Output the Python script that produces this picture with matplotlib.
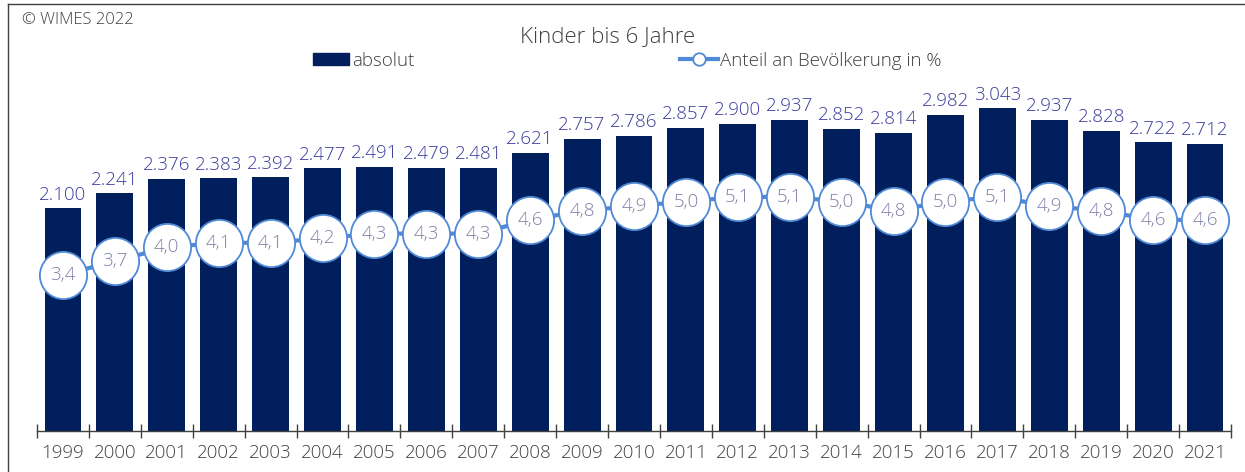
import matplotlib
matplotlib.use("Agg")
import matplotlib.pyplot as plt
from matplotlib.lines import Line2D
from matplotlib.patches import Patch

plt.rcParams['font.family'] = ['Open Sans', 'DejaVu Sans']
plt.rcParams['font.weight'] = 'light'

years = ['1999', '2000', '2001', '2002', '2003', '2004', '2005', '2006', '2007', '2008',
         '2009', '2010', '2011', '2012', '2013', '2014', '2015', '2016', '2017', '2018',
         '2019', '2020', '2021']
absolut = [2100, 2241, 2376, 2383, 2392, 2477, 2491, 2479, 2481, 2621,
           2757, 2786, 2857, 2900, 2937, 2852, 2814, 2982, 3043, 2937,
           2828, 2722, 2712]
anteil = [3.4, 3.7, 4.0, 4.1, 4.1, 4.2, 4.3, 4.3, 4.3, 4.6,
          4.8, 4.9, 5.0, 5.1, 5.1, 5.0, 4.8, 5.0, 5.1, 4.9,
          4.8, 4.6, 4.6]

def de_int(v):
    return f"{v:,}".replace(",", ".")

def de_dec(v):
    return f"{v:.1f}".replace(".", ",")

W, H = 1245, 472
fig = plt.figure(figsize=(W / 100, H / 100), dpi=100)

bar_color = '#001f5c'
line_color = '#5089d6'
label_color = '#3b3b9e'
circ_text = '#8080a8'
text_gray = '#404040'
FS = 13.5

ax_left = 37 / W
ax_right = 1231 / W
ax_bottom = (H - 431) / H
ax_top = (H - 60) / H
ax = fig.add_axes([ax_left, ax_bottom, ax_right - ax_left, ax_top - ax_bottom])

x = list(range(len(years)))
ax.bar(x, absolut, width=0.71, color=bar_color, zorder=2)
ax.set_xlim(-0.5, len(years) - 0.5)
ax.set_ylim(0, 3500)
for xi, v in zip(x, absolut):
    ax.text(xi, v + 45, de_int(v), ha='center', va='bottom', fontsize=FS,
            color=label_color)

ax.set_yticks([])
for s in ['left', 'right', 'top']:
    ax.spines[s].set_visible(False)
ax.spines['bottom'].set_color('#404040')
ax.spines['bottom'].set_linewidth(1.0)
ax.set_xticks([i - 0.5 for i in range(len(years) + 1)], minor=False)
ax.set_xticklabels([])
ax.tick_params(axis='x', direction='inout', length=10, width=1.0, color='#404040')
ax.set_xticks(x, minor=True)
ax.set_xticklabels(years, minor=True, fontsize=FS, color=text_gray)
ax.tick_params(axis='x', which='minor', length=0, pad=9)

ax2 = ax.twinx()
ax2.set_ylim(0, 371 / 45.9)
ax2.plot(x, anteil, color=line_color, lw=3.0, marker='o', markersize=34,
         markerfacecolor='white', markeredgecolor=line_color, markeredgewidth=1.3,
         zorder=3)
for xi, v in zip(x, anteil):
    ax2.text(xi, v, de_dec(v), ha='center', va='center', fontsize=FS,
             color=circ_text, zorder=4)
ax2.set_yticks([])
for s in ['left', 'right', 'top', 'bottom']:
    ax2.spines[s].set_visible(False)

# title and legend
fig.text(608 / W, 1 - 37 / H, 'Kinder bis 6 Jahre', ha='center', va='center',
         fontsize=16, color=text_gray)
h1 = Patch(facecolor=bar_color, edgecolor=bar_color)
h2 = Line2D([0], [0], color=line_color, lw=3.0, marker='o', markersize=9,
            markerfacecolor='white', markeredgecolor=line_color, markeredgewidth=1.3)
fig.legend([h1], ['absolut'], loc='center left', bbox_to_anchor=(296 / W, 1 - 61 / H),
           frameon=False, fontsize=FS, handlelength=1.92, handletextpad=0.16,
           handleheight=0.59, labelcolor=text_gray)
fig.legend([h2], ['Anteil an Bevölkerung in %'], loc='center left',
           bbox_to_anchor=(663 / W, 1 - 61 / H), frameon=False, fontsize=FS,
           handlelength=2.03, handletextpad=0.1, labelcolor=text_gray)

fig.text(22 / W, 1 - 20 / H, '© WIMES 2022', ha='left', va='center',
         fontsize=12, color=text_gray)

# frame
fig.add_artist(Line2D([8 / W, 8 / W], [0, 1 - 4 / H], color='#404040', lw=1.0,
                      transform=fig.transFigure))
fig.add_artist(Line2D([8 / W, 1], [1 - 4 / H, 1 - 4 / H], color='#404040', lw=1.0,
                      transform=fig.transFigure))

fig.savefig('out.png', dpi=100)
